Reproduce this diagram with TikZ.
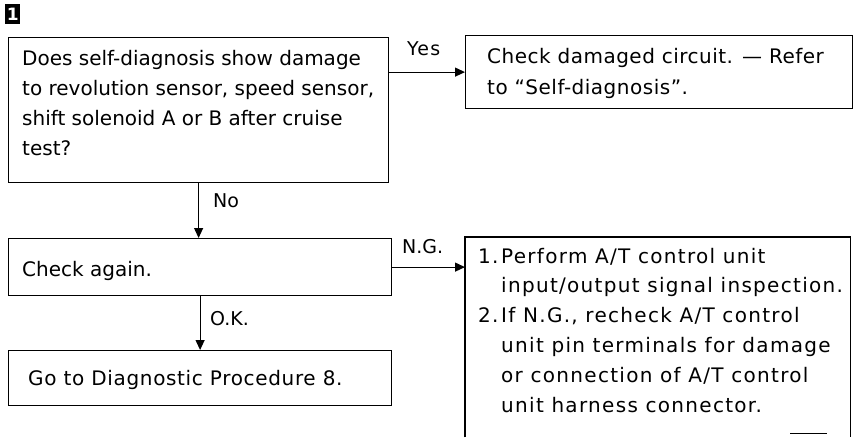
\documentclass[tikz,border=0pt]{standalone}
\usepackage{fontspec}
\setmainfont{DejaVu Sans}
\usetikzlibrary{arrows.meta}
\begin{document}
\begin{tikzpicture}[x=1pt,y=-1pt,
  box/.style={draw,line width=1.2pt,inner sep=0pt,anchor=north west},
  txt/.style={inner sep=0pt,anchor=north west,align=left,font=\fontsize{20}{29.8}\selectfont},
  lbl/.style={inner sep=0pt,anchor=base west,font=\fontsize{19}{24}\selectfont},
  conn/.style={line width=1.2pt,-{Triangle[length=10pt,width=9pt]}}]
\useasboundingbox[fill=white] (0,0) rectangle (861,437);

% badge
\node[fill=black,text=white,inner sep=0pt,minimum width=15pt,minimum height=20pt,
  anchor=north west,font=\bfseries\fontsize{17}{17}\selectfont] (badge) at (5,4) {1};

% boxes
\node[box,minimum width=380pt,minimum height=145pt] (b1) at (8,37) {};
\node[box,minimum width=387pt,minimum height=73pt] (b2) at (465,35) {};
\node[box,minimum width=383pt,minimum height=57pt] (b3) at (8,238) {};
\node[inner sep=0pt,anchor=north west,minimum width=385pt,minimum height=200pt] (b4) at (465,237) {};
\node[box,minimum width=383pt,minimum height=55pt] (b5) at (8,350) {};
\draw[line width=1.2pt] (b4.south west) -- (b4.north west) -- (b4.north east) -- (b4.south east);
\draw[line width=0.8pt] ([xshift=-60pt,yshift=4pt]b4.south east) -- ([xshift=-23pt,yshift=4pt]b4.south east);

% texts
\node[txt] (t1) at (22,44.6) {\strut Does self-diagnosis show damage\\
to revolution sensor, speed sensor,\\
shift solenoid A or B after cruise\\
test?};
\node[txt,font=\fontsize{20}{31}\selectfont\addfontfeatures{LetterSpace=2.5}] (t2) at (487,41.3) {\strut Check damaged circuit. --- Refer\\
to ``Self-diagnosis''.};
\node[txt] (t3) at (22,255.1) {\strut Check again.};
\node[txt,font=\fontsize{20}{29.8}\selectfont\addfontfeatures{LetterSpace=6.5}] (t4) at (478,242.1) {%
\begin{tabular}{@{}l@{}l@{}}
\makebox[23pt][l]{1.} & Perform A/T control unit\\
 & input/output signal inspection.\\
\makebox[23pt][l]{2.} & If N.G., recheck A/T control\\
 & unit pin terminals for damage\\
 & or connection of A/T control\\
 & unit harness connector.
\end{tabular}};
\node[txt,font=\fontsize{20}{29.8}\selectfont\addfontfeatures{LetterSpace=3.3}] (t5) at (28,364.1) {\strut Go to Diagnostic Procedure 8.};

% connectors
\draw[conn] (b1.east |- b2.west) -- (b2.west);
\draw[conn] (b1.south) -- (b1.south |- b3.north);
\draw[conn] (b3.east) -- (b4.west |- b3.east);
\draw[conn] (b3.south) -- (b3.south |- b5.north);

% labels
\node[lbl,font=\fontsize{19}{24}\selectfont\addfontfeatures{LetterSpace=6}] (lyes) at (407,55) {Yes};
\node[lbl] (lno) at (213,207) {No};
\node[lbl] (lng) at (402,253) {N.G.};
\node[lbl] (lok) at (210,325) {O.K.};
\end{tikzpicture}
\end{document}
